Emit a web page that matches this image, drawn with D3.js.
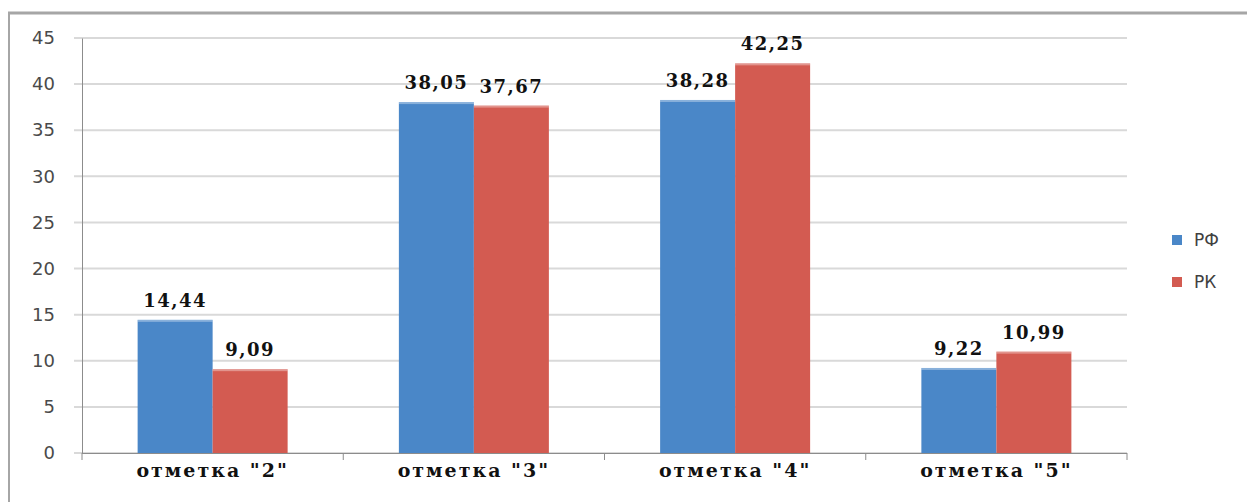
<!DOCTYPE html>
<html><head><meta charset="utf-8">
<script src="https://cdn.jsdelivr.net/npm/d3@7"></script>
<style>body{margin:0;background:#fff}svg{display:block}</style>
</head><body>
<svg id="c" width="1247" height="502"></svg>
<script>
const categories = ['отметка "2"', 'отметка "3"', 'отметка "4"', 'отметка "5"'];
const seriesNames = ["РФ", "РК"];
const valuesRF = [14.44, 38.05, 38.28, 9.22];
const valuesRK = [9.09, 37.67, 42.25, 10.99];
const yTicks = [0, 5, 10, 15, 20, 25, 30, 35, 40, 45];
const colors = ["#4a87c8", "#d35b51"];

(function () {
const svg = d3.select("#c");
const pL = 82, pR = 1127, pT = 38, pB = 453;
const x = d3.scaleBand().domain(categories).range([pL, pR]);
const inner = d3.scaleBand().domain(seriesNames).range([0, 150]);
const y = d3.scaleLinear().domain([0, 45]).range([pB, pT]);

// frame
svg.append("line").attr("x1", 8).attr("x2", 1247).attr("y1", 13).attr("y2", 13).attr("stroke", "#a6a6a6").attr("stroke-width", 3);
svg.append("line").attr("x1", 9).attr("x2", 9).attr("y1", 12).attr("y2", 502).attr("stroke", "#a6a6a6").attr("stroke-width", 2);

// gridlines
svg.append("g").selectAll("line").data(yTicks).join("line")
  .attr("x1", 74).attr("x2", pR).attr("y1", d => y(d)).attr("y2", d => y(d))
  .attr("stroke", "#d9d9d9").attr("stroke-width", 2);

// y axis
const ya = svg.append("g").attr("transform", `translate(${pL},0)`)
  .call(d3.axisLeft(y).tickValues(yTicks).tickSize(0).tickPadding(27));
ya.select(".domain").attr("stroke", "#8c8c8c").attr("stroke-width", 1);
ya.selectAll("text").attr("font-family", "DejaVu Sans, sans-serif").attr("font-size", 18).attr("fill", "#4a4a4a");

// x axis
const xa = svg.append("g").attr("transform", `translate(0,${pB})`)
  .call(d3.axisBottom(x).tickSize(0).tickPadding(11));
xa.select(".domain").remove();
xa.selectAll("text").attr("font-family", "DejaVu Serif, serif").attr("font-weight", "bold")
  .attr("font-size", 19).attr("letter-spacing", 2).attr("fill", "#111");
svg.append("line").attr("x1", pL).attr("x2", pR).attr("y1", pB + 0.5).attr("y2", pB + 0.5).attr("stroke", "#8c8c8c");
svg.append("g").selectAll("line").data(d3.range(categories.length + 1)).join("line")
  .attr("x1", i => pL + i * x.bandwidth()).attr("x2", i => pL + i * x.bandwidth())
  .attr("y1", pB).attr("y2", pB + 7).attr("stroke", "#8c8c8c");

// bars
const data = [];
categories.forEach((c, i) => {
  data.push({c, s: "РФ", v: valuesRF[i], color: colors[0]});
  data.push({c, s: "РК", v: valuesRK[i], color: colors[1]});
});
const off = (x.bandwidth() - 150) / 2;
const g = svg.append("g");
g.selectAll("rect.bar").data(data).join("rect").attr("class", "bar")
  .attr("x", d => x(d.c) + off + inner(d.s)).attr("width", inner.bandwidth())
  .attr("y", d => y(d.v)).attr("height", d => y(0) - y(d.v)).attr("fill", d => d.color);
g.selectAll("rect.hl").data(data).join("rect").attr("class", "hl")
  .attr("x", d => x(d.c) + off + inner(d.s)).attr("width", inner.bandwidth())
  .attr("y", d => y(d.v)).attr("height", 2).attr("fill", "#fff").attr("opacity", 0.35);
g.selectAll("text").data(data).join("text")
  .attr("x", d => x(d.c) + off + inner(d.s) + inner.bandwidth() / 2)
  .attr("y", d => y(d.v) - 13)
  .attr("text-anchor", "middle")
  .attr("font-family", "DejaVu Serif, serif").attr("font-weight", "bold")
  .attr("font-size", 18).attr("letter-spacing", 1.5).attr("fill", "#111")
  .text(d => d.v.toFixed(2).replace(".", ","));

// legend
const lg = svg.append("g").attr("transform", "translate(1172,235)");
seriesNames.forEach((s, i) => {
  lg.append("rect").attr("x", 0).attr("y", i * 42).attr("width", 10).attr("height", 10).attr("fill", colors[i]);
  lg.append("text").attr("x", 22).attr("y", i * 42 + 11).attr("font-family", "DejaVu Sans, sans-serif")
    .attr("font-size", 17).attr("fill", "#404040").text(s);
});
})();
</script>
</body></html>
